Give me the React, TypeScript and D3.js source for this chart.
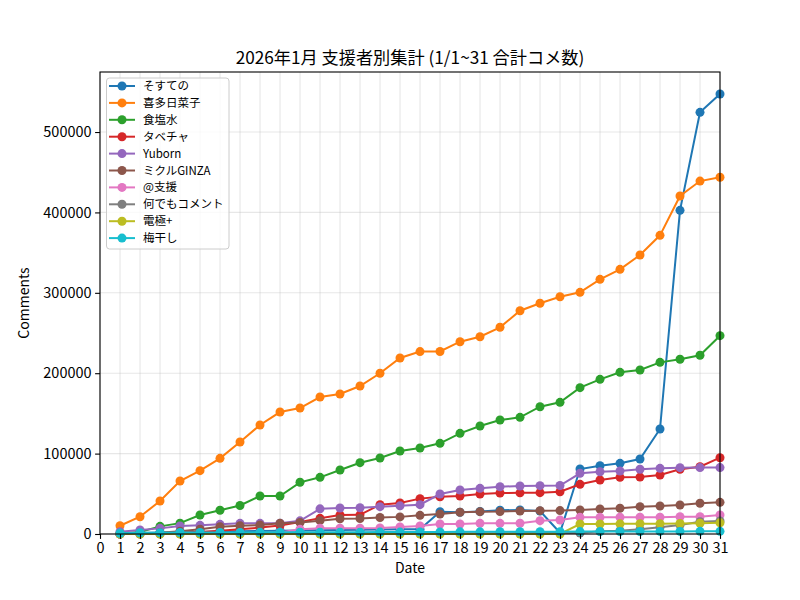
import { useEffect, useRef } from 'react'
import * as d3 from 'd3'

const days = [1, 2, 3, 4, 5, 6, 7, 8, 9, 10, 11, 12, 13, 14, 15, 16, 17, 18, 19, 20, 21, 22, 23, 24, 25, 26, 27, 28, 29, 30, 31]

const sosuteno = [500, 1200, 1800, 2300, 2600, 3100, 3400, 3800, 4100, 4300, 4600, 4900, 5200, 5500, 5800, 6000, 27700, 27000, 28000, 29500, 29900, 28500, 1500, 80800, 85000, 87900, 93300, 130600, 402600, 524500, 547300]
const kitaHinako = [10300, 21500, 41000, 65900, 78800, 94100, 114400, 135600, 151700, 156700, 170400, 174100, 184100, 199900, 218900, 226900, 227000, 239200, 245400, 257100, 277700, 287000, 295100, 300600, 316800, 329200, 347000, 371500, 420400, 439000, 443700]
const shokuensui = [500, 2500, 9500, 13500, 23600, 29500, 35500, 47300, 47300, 64300, 70500, 79600, 88700, 94500, 103200, 107000, 112800, 125200, 134300, 141800, 145100, 158300, 163800, 182000, 192400, 201100, 204000, 213500, 217300, 222300, 246700]
const tabecha = [0, 300, 800, 1500, 2500, 4000, 5800, 8000, 10500, 15000, 19500, 23600, 23800, 36500, 38500, 44000, 46400, 47300, 49800, 51000, 51200, 51400, 52600, 61800, 67200, 70500, 70800, 73400, 80500, 83700, 94900]
const yuborn = [2900, 5000, 7000, 10000, 10800, 12000, 13300, 13300, 13500, 16400, 31300, 32400, 32600, 34000, 35000, 36500, 49700, 54700, 56800, 58800, 59700, 60100, 60300, 75500, 77500, 78400, 80500, 81700, 82500, 82600, 82600]
const mikuruGinza = [0, 500, 1500, 3500, 6000, 9100, 10300, 11200, 13300, 14300, 16600, 19000, 19300, 20500, 21300, 23200, 24900, 27000, 27800, 27900, 28600, 29000, 29100, 29900, 31100, 32000, 34000, 34800, 36100, 38200, 39400]
const atShien = [100, 300, 400, 700, 800, 1100, 1300, 1400, 1800, 5800, 7000, 7200, 7300, 7600, 8700, 10000, 12400, 12500, 13300, 13300, 13400, 16600, 17400, 20700, 20700, 20800, 20800, 20900, 21500, 21600, 23600]
const nandemo = [0, 0, 100, 200, 200, 300, 300, 400, 400, 500, 500, 600, 700, 700, 800, 800, 900, 900, 1000, 1000, 1100, 1100, 1200, 1300, 3300, 4100, 5800, 8300, 11200, 15300, 16200]
const denkyoku = [0, 0, 0, 0, 0, 0, 0, 0, 0, 0, 0, 0, 0, 0, 0, 0, 0, 0, 0, 0, 0, 0, 0, 12400, 12500, 12600, 12700, 12900, 13100, 13400, 13900]
const umeboshi = [1000, 1500, 1700, 1800, 1900, 2000, 2000, 2100, 2100, 2200, 2200, 2300, 2300, 2400, 2400, 2500, 2600, 2700, 2700, 2800, 2800, 2900, 2900, 3000, 3000, 3100, 3100, 3200, 3200, 3300, 3300]

const seriesNames = ['そすての', '喜多日菜子', '食塩水', 'タベチャ', 'Yuborn', 'ミクルGINZA', '@支援', '何でもコメント', '電極+', '梅干し']
const seriesValues = [sosuteno, kitaHinako, shokuensui, tabecha, yuborn, mikuruGinza, atShien, nandemo, denkyoku, umeboshi]
const palette = ['#1f77b4', '#ff7f0e', '#2ca02c', '#d62728', '#9467bd', '#8c564b', '#e377c2', '#7f7f7f', '#bcbd22', '#17becf']

const FONT = '"Noto Sans CJK JP", "Noto Sans", sans-serif'

export default function App() {
  const svgRef = useRef<SVGSVGElement>(null)

  useEffect(() => {
    if (!svgRef.current) return
    const svg = d3.select(svgRef.current)
    svg.selectAll('*').remove()

    const W = 800, H = 600
    const margin = { top: 72, right: 80, bottom: 66, left: 100 }
    const width = W - margin.left - margin.right
    const height = H - margin.top - margin.bottom

    svg.append('rect').attr('width', W).attr('height', H).attr('fill', '#fff')

    const g = svg.append('g').attr('transform', `translate(${margin.left},${margin.top})`)

    const maxVal = d3.max(seriesValues, s => d3.max(s)) || 1
    const x = d3.scaleLinear().domain([0, 31]).range([0, width])
    const y = d3.scaleLinear().domain([0, maxVal * 1.05]).range([height, 0])

    const xTicks = d3.range(0, 32)
    const yTicks = [0, 100000, 200000, 300000, 400000, 500000]

    // grid
    g.append('g').selectAll('line').data(xTicks).enter().append('line')
      .attr('x1', d => x(d)).attr('x2', d => x(d)).attr('y1', 0).attr('y2', height)
      .attr('stroke', '#b0b0b0').attr('stroke-opacity', 0.3).attr('stroke-width', 1.1)
    g.append('g').selectAll('line').data(yTicks).enter().append('line')
      .attr('x1', 0).attr('x2', width).attr('y1', d => y(d)).attr('y2', d => y(d))
      .attr('stroke', '#b0b0b0').attr('stroke-opacity', 0.3).attr('stroke-width', 1.1)

    const line = d3.line<number>()
      .x((_, i) => x(days[i]))
      .y(d => y(d))

    seriesValues.forEach((vals, si) => {
      const sg = g.append('g')
      sg.append('path').datum(vals)
        .attr('fill', 'none').attr('stroke', palette[si]).attr('stroke-width', 2).attr('d', line)
      sg.selectAll('circle').data(vals).enter().append('circle')
        .attr('cx', (_, i) => x(days[i])).attr('cy', d => y(d))
        .attr('r', 4.5).attr('fill', palette[si])
    })

    // frame
    g.append('rect').attr('width', width).attr('height', height)
      .attr('fill', 'none').attr('stroke', '#000').attr('stroke-width', 1.1)

    const xAxis = g.append('g').attr('transform', `translate(0,${height})`)
      .call(d3.axisBottom(x).tickValues(xTicks).tickFormat(d => String(d)).tickSize(4.9).tickPadding(3.5))
    xAxis.select('.domain').remove()
    xAxis.selectAll('text').style('font-size', '14.5px').style('font-family', FONT).attr('fill', '#000')
    xAxis.selectAll('line').attr('stroke', '#000').attr('stroke-width', 1.1)

    const yAxis = g.append('g')
      .call(d3.axisLeft(y).tickValues(yTicks).tickFormat(d => String(d)).tickSize(4.9).tickPadding(3.5))
    yAxis.select('.domain').remove()
    yAxis.selectAll('text').style('font-size', '14.5px').style('font-family', FONT).attr('fill', '#000')
    yAxis.selectAll('line').attr('stroke', '#000').attr('stroke-width', 1.1)

    svg.append('text').attr('x', margin.left + width / 2).attr('y', 573).attr('text-anchor', 'middle')
      .style('font-size', '14px').style('font-family', FONT).text('Date')
    svg.append('text').attr('transform', `translate(29,${margin.top + height / 2}) rotate(-90)`)
      .attr('text-anchor', 'middle').style('font-size', '14px').style('font-family', FONT).text('Comments')
    svg.append('text').attr('x', margin.left + width / 2).attr('y', 64).attr('text-anchor', 'middle')
      .style('font-size', '17.2px').style('font-family', FONT).text('2026年1月 支援者別集計 (1/1~31 合計コメ数)')

    // legend
    const legend = g.append('g').attr('transform', 'translate(6.5,6)')
    legend.append('rect').attr('width', 122.5).attr('height', 171).attr('rx', 3)
      .attr('fill', '#fff').attr('fill-opacity', 0.8).attr('stroke', '#ccc')
    seriesNames.forEach((name, i) => {
      const row = legend.append('g').attr('transform', `translate(0,${8 + i * 16.9})`)
      row.append('line').attr('x1', 2.5).attr('x2', 28.5).attr('stroke', palette[i]).attr('stroke-width', 2)
      row.append('circle').attr('cx', 15.5).attr('r', 4.5).attr('fill', palette[i])
      row.append('text').attr('x', 36.5).attr('y', 4).style('font-size', '11.5px').style('font-family', FONT).text(name)
    })
  }, [])

  return <svg ref={svgRef} width={800} height={600} style={{ display: 'block', margin: -8 }} />
}
